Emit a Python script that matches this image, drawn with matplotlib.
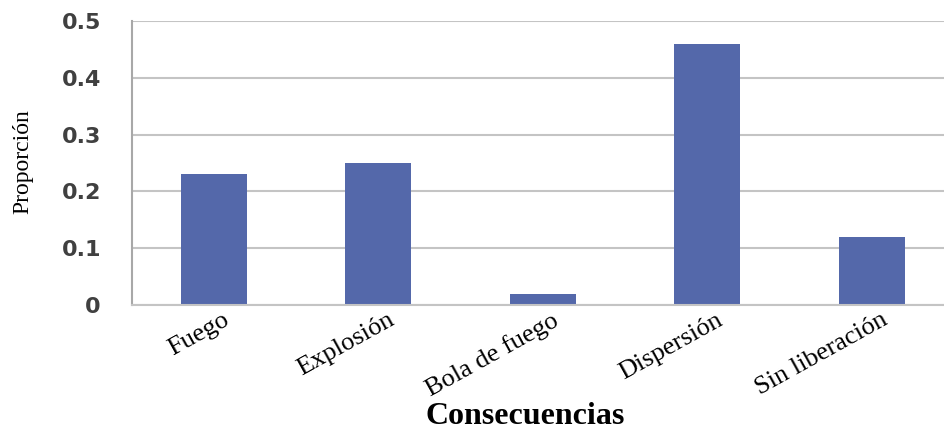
import matplotlib
matplotlib.use("Agg")
import matplotlib.pyplot as plt
from matplotlib.transforms import ScaledTranslation

categories = ["Fuego", "Explosión", "Bola de fuego", "Dispersión", "Sin liberación"]
proportions = [0.23, 0.25, 0.02, 0.46, 0.12]
yticks = [0, 0.1, 0.2, 0.3, 0.4, 0.5]
ytick_labels = ["0", "0.1", "0.2", "0.3", "0.4", "0.5"]

bar_color = "#5468aa"
grid_color = "#c4c4c4"

fig = plt.figure(figsize=(9.44, 4.34), dpi=100)
ax = fig.add_axes([131.5 / 944, (434 - 305) / 434, 1 - 131.5 / 944, (305 - 21) / 434])

x = list(range(len(categories)))
ax.bar(x, proportions, width=0.4, color=bar_color, zorder=3)

ax.set_xlim(-0.5, 4.44)
ax.set_ylim(0, 0.5)
ax.set_yticks(yticks)
ax.set_yticklabels(ytick_labels, fontsize=16, fontweight="bold",
                   color="#404040", family="DejaVu Sans")
ax.yaxis.grid(True, color=grid_color, linewidth=1.5, zorder=0)
ax.tick_params(axis="y", length=0, pad=22)
ax.tick_params(axis="x", length=0, pad=2)

ax.set_xticks(x)
ax.set_xticklabels(categories, rotation=29, ha="right", va="top",
                   rotation_mode="anchor", fontsize=19,
                   family="Liberation Serif", color="black")
shift = ScaledTranslation(9 / 100, -1 / 100, fig.dpi_scale_trans)
for lbl in ax.get_xticklabels():
    lbl.set_transform(lbl.get_transform() + shift)

for side in ("top", "right"):
    ax.spines[side].set_visible(False)
ax.spines["left"].set_color("#a8a8a8")
ax.spines["left"].set_linewidth(1.5)
ax.spines["bottom"].set_color(grid_color)
ax.spines["bottom"].set_linewidth(1.5)
ax.spines["bottom"].set_zorder(4)

fig.text(23 / 944, 1 - 162 / 434, "Proporción", rotation=90, ha="center",
         va="center", fontsize=17, family="Liberation Serif")
fig.text(525 / 944, 1 - 416 / 434, "Consecuencias", ha="center", va="center",
         fontsize=23, fontweight="bold", family="Liberation Serif")

fig.savefig("out.png", dpi=100)
